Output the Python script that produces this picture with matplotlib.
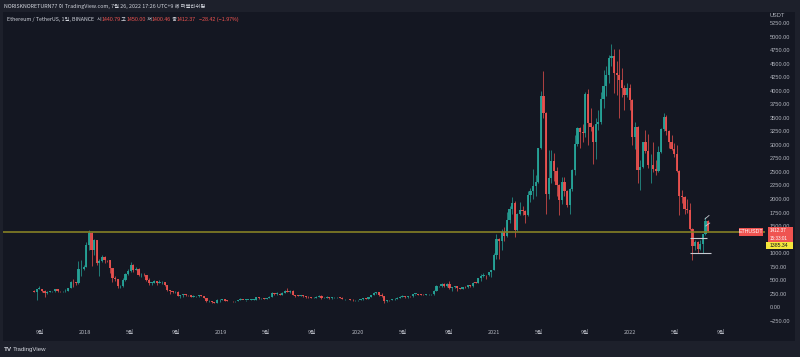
import matplotlib
matplotlib.use("Agg")
import matplotlib.pyplot as plt
import numpy as np
import pandas as pd
from matplotlib.patches import Rectangle

# ---------------- data (weekly OHLC, ETH/USDT) ----------------
first_week = "2017-08-14"
first_open = 301

highs_2017 = [312, 345, 395, 345, 315, 300, 310, 305, 345, 345, 310, 310, 330, 360, 480, 520, 470, 860, 870, 780]
lows_2017 = [280, 135, 335, 280, 197, 250, 283, 290, 290, 290, 280, 285, 280, 300, 350, 380, 410, 430, 570, 680]
closes_2017 = [290, 345, 345, 295, 255, 285, 295, 298, 335, 300, 295, 300, 310, 355, 470, 460, 440, 700, 700, 750]

highs_2018 = [1200, 1424, 1390, 1260, 1245, 900, 960, 950, 880, 870, 730, 580, 530, 410, 535, 630, 710, 830, 800, 740,
              720, 630, 630, 600, 545, 470, 500, 490, 500, 490, 470, 420, 325, 300, 300, 300, 225, 250, 250, 235,
              235, 225, 210, 225, 225, 215, 175, 130, 120, 95, 145, 160]
lows_2018 = [740, 1050, 770, 960, 780, 575, 840, 810, 840, 640, 460, 490, 365, 360, 380, 490, 590, 660, 660, 680,
             580, 560, 585, 480, 420, 410, 440, 420, 440, 430, 400, 310, 250, 260, 270, 200, 168, 190, 215, 210,
             185, 195, 195, 195, 205, 165, 100, 105, 85, 82, 83, 105]
closes_2018 = [1150, 1370, 1050, 1240, 810, 860, 920, 870, 865, 720, 540, 520, 385, 385, 500, 615, 670, 790, 685, 715,
               590, 600, 590, 500, 455, 455, 485, 450, 460, 465, 410, 320, 295, 275, 290, 210, 220, 245, 230, 225,
               197, 205, 205, 220, 210, 170, 110, 115, 90, 85, 130, 138]

highs_2019 = [160, 160, 130, 122, 116, 125, 135, 165, 140, 140, 140, 145, 145, 185, 185, 175, 175, 170, 200, 280,
              270, 280, 255, 275, 320, 364, 320, 320, 230, 225, 235, 235, 215, 200, 195, 185, 200, 225, 218, 185,
              200, 190, 195, 195, 195, 190, 183, 160, 155, 152, 145, 135]
lows_2019 = [130, 120, 115, 110, 100, 102, 118, 130, 130, 125, 130, 130, 133, 140, 155, 160, 150, 150, 165, 190,
             230, 235, 225, 230, 265, 280, 270, 225, 195, 200, 208, 195, 180, 180, 165, 168, 175, 190, 155, 165,
             175, 160, 160, 180, 180, 175, 145, 140, 145, 140, 116, 125]
closes_2019 = [155, 125, 120, 115, 108, 123, 135, 138, 135, 135, 138, 138, 141, 182, 165, 170, 155, 165, 195, 260,
               250, 250, 230, 270, 310, 290, 310, 230, 215, 210, 230, 210, 195, 185, 170, 180, 195, 215, 170, 180,
               185, 170, 185, 185, 185, 180, 150, 150, 150, 142, 128, 130]

highs_2020 = [140, 150, 180, 172, 190, 225, 288, 285, 280, 255, 205, 140, 140, 150, 175, 185, 200, 225, 215, 210,
              215, 245, 250, 250, 240, 245, 245, 245, 245, 315, 415, 400, 445, 440, 440, 490, 380, 395, 390, 365,
              380, 390, 420, 415, 460, 470, 550, 620, 630, 600, 660, 690]
lows_2020 = [125, 135, 142, 155, 160, 185, 220, 245, 215, 195, 86, 105, 125, 128, 143, 150, 170, 190, 180, 180,
             195, 195, 230, 225, 225, 220, 220, 235, 235, 235, 305, 370, 375, 380, 380, 330, 310, 355, 310, 335,
             340, 360, 365, 370, 375, 440, 445, 480, 560, 530, 580, 560]
closes_2020 = [138, 146, 167, 162, 190, 223, 260, 275, 225, 200, 125, 132, 130, 145, 155, 180, 195, 210, 185, 205,
               200, 245, 245, 235, 230, 225, 240, 240, 240, 310, 390, 395, 430, 390, 430, 350, 370, 385, 355, 345,
               375, 370, 405, 385, 455, 450, 550, 575, 595, 590, 645, 685]

highs_2021 = [1000, 1350, 1280, 1440, 1475, 1760, 1870, 2040, 1960, 1750, 1950, 1880, 1800, 2150, 2200, 2550, 2450,
              2950, 3990, 4370, 3600, 2900, 2900, 2850, 2600, 2270, 2400, 2400, 2170, 2200, 2550, 3180, 3330, 3330,
              3380, 3970, 4030, 3680, 3360, 3490, 3640, 3970, 4380, 4460, 4660, 4870, 4770, 4550, 4780, 4420, 4100,
              4140, 4130]
lows_2021 = [680, 900, 900, 1050, 1220, 1300, 1560, 1730, 1290, 1410, 1700, 1710, 1550, 1690, 1950, 2000, 2050,
             2300, 2930, 3500, 1730, 2000, 2300, 2330, 2050, 1700, 1900, 2050, 1850, 1720, 2150, 2450, 2980, 2950,
             3060, 3150, 3000, 3260, 2650, 2740, 3280, 3380, 3690, 3900, 4150, 4450, 3960, 3920, 3500, 3880, 3640,
             3880, 3650]
closes_2021 = [975, 1260, 1230, 1390, 1315, 1610, 1810, 1935, 1420, 1720, 1790, 1780, 1700, 2080, 2140, 2240, 2310,
               2945, 3900, 3580, 2100, 2380, 2710, 2510, 2250, 1980, 2320, 2140, 1890, 2190, 2530, 3010, 3310, 3240,
               3220, 3940, 3410, 3330, 3060, 3390, 3420, 3850, 4080, 4290, 4610, 4650, 4320, 4300, 4190, 4060, 3920,
               4060, 3830]

highs_2022 = [3850, 3420, 3350, 2730, 3060, 3280, 3200, 2840, 3050, 2720, 2980, 3320, 3580, 3550, 3270, 3190, 3030,
              3000, 2530, 2160, 2050, 2000, 1920, 1460, 1250, 1230, 1250, 1360, 1660, 1610]
lows_2022 = [3000, 2930, 2300, 2160, 2580, 2850, 2580, 2300, 2500, 2450, 2500, 2850, 3250, 3180, 2950, 2900, 2780,
             2500, 1700, 1920, 1720, 1750, 1420, 880, 1050, 1000, 1060, 1000, 1340, 1400]
closes_2022 = [3150, 3330, 2530, 2600, 3050, 2880, 2620, 2620, 2550, 2520, 2860, 3300, 3520, 3260, 3060, 2920, 2830,
               2520, 2060, 2040, 1810, 1800, 1450, 1130, 1200, 1070, 1170, 1350, 1600, 1412]

hline_price = 1385.34
last_price = 1412.37
range_top = 1285
range_bottom = 1000

price_ticks = list(range(-250, 5251, 250))
hidden_price_ticks = [1250]  # covered by the last-price label in the reference
time_tick_dates = ["2017-09-01", "2018-01-01", "2018-05-01", "2018-09-01", "2019-01-01", "2019-05-01",
                   "2019-09-01", "2020-01-01", "2020-05-01", "2020-09-01", "2021-01-01", "2021-05-01",
                   "2021-09-01", "2022-01-01", "2022-05-01", "2022-09-01"]
time_tick_labels = ["9월", "2018", "5월", "9월", "2019", "5월", "9월", "2020", "5월", "9월",
                    "2021", "5월", "9월", "2022", "5월", "9월"]

# ---------------- assemble ----------------
highs = np.array(highs_2017 + highs_2018 + highs_2019 + highs_2020 + highs_2021 + highs_2022, float)
lows = np.array(lows_2017 + lows_2018 + lows_2019 + lows_2020 + lows_2021 + lows_2022, float)
closes = np.array(closes_2017 + closes_2018 + closes_2019 + closes_2020 + closes_2021 + closes_2022, float)
opens = np.concatenate([[first_open], closes[:-1]])

ref = pd.Timestamp("2018-01-01")
weeks = pd.date_range(first_week, periods=len(closes), freq="7D")
xs = np.array([(d - ref).days for d in weeks], float) + 3.5

def day(s):
    return (pd.Timestamp(s) - ref).days

# ---------------- style ----------------
W, H = 800, 357
OUTER = "#1d202b"
PANEL = "#141722"
UP = "#26a69a"
DOWN = "#ef5350"
TXT = "#b2b5be"
LAT = ["Liberation Sans", "DejaVu Sans"]
KR = ["Noto Sans CJK KR", "DejaVu Sans"]

def fx(px):
    return px / W

def fy(py):
    return 1 - py / H

fig = plt.figure(figsize=(8, 3.57), dpi=100)
fig.patch.set_facecolor(OUTER)
fig.add_artist(Rectangle((fx(3), fy(341)), fx(795) - fx(3), fy(12) - fy(341),
                         transform=fig.transFigure, facecolor=PANEL, edgecolor="none", zorder=-1))

ax = fig.add_axes([fx(3), fy(327), fx(765) - fx(3), fy(12) - fy(327)])
ax.set_facecolor("none")
for s in ax.spines.values():
    s.set_visible(False)

ax.set_xlim(-219.7, 1822)
ax.set_ylim(-364, 5455)

cols = np.where(closes >= opens, UP, DOWN)
ax.vlines(xs, lows, highs, colors=cols, linewidth=0.55, alpha=0.9, zorder=2)
ax.bar(xs, np.maximum(np.abs(closes - opens), 10), bottom=np.minimum(opens, closes), width=6.0,
       color=cols, linewidth=0, alpha=0.9, zorder=3)

ax.axhline(hline_price, color="#858025", lw=1.2, zorder=4)
ax.hlines(range_top, day("2022-06-10"), day("2022-07-26"), color="#c8cad2", lw=0.8, zorder=5)
ax.hlines(range_bottom, day("2022-06-10"), day("2022-08-05"), color="#c8cad2", lw=0.8, zorder=5)
ax.plot([day("2022-07-20"), day("2022-07-31")], [1631, 1696], color="#c8cad2", lw=0.6, zorder=5)
ax.plot([day("2022-07-22"), day("2022-08-02")], [1502, 1557], color="#c8cad2", lw=0.6, zorder=5)

ax.yaxis.tick_right()
ax.set_yticks(price_ticks)
ax.set_yticklabels(["" if v in hidden_price_ticks else f"{v:.2f}".replace("-", "\u2212") for v in price_ticks],
                   fontsize=4.1, color=TXT, family=LAT)
ax.tick_params(axis="y", length=0, pad=3.6)
ax.set_xticks([day(d) for d in time_tick_dates])
ax.set_xticklabels(time_tick_labels, fontsize=4.0, color=TXT, family=KR)
ax.tick_params(axis="x", length=0, pad=2.4)

# ---------------- overlays ----------------
renderer = fig.canvas.get_renderer()

def seq_text(x0, y, parts, target_w, base=5.0):
    # measure at base size, then scale to fit target width
    tmp = [fig.text(0, 0, t, fontsize=base, family=fam) for t, c, fam in parts]
    total = sum(t.get_window_extent(renderer).width for t in tmp)
    for t in tmp:
        t.remove()
    size = base * target_w / total
    x = x0
    for t, c, fam in parts:
        tt = fig.text(fx(x), fy(y), t, fontsize=size, color=c, family=fam, va="center", ha="left")
        x += tt.get_window_extent(renderer).width

seq_text(4, 6.5, [("NORISKNORETURN77 이 TradingView.com, 7월 26, 2022 17:26 UTC+9 에 퍼블리쉬됨", "#d1d4dc", KR)], 201)
seq_text(7, 19.5, [("Ethereum / TetherUS, 1일, BINANCE  ", "#d1d4dc", KR),
                   ("시", "#d1d4dc", KR), ("1440.79", DOWN, LAT),
                   (" 고", "#d1d4dc", KR), ("1450.00", DOWN, LAT),
                   (" 저", "#d1d4dc", KR), ("1400.46", DOWN, LAT),
                   (" 종", "#d1d4dc", KR), ("1412.37", DOWN, LAT),
                   ("  \u221228.42 (\u22121.97%)", DOWN, LAT)], 233)

def box(x0, y0, x1, y1, color, z=5):
    fig.add_artist(Rectangle((fx(x0), fy(y1)), fx(x1) - fx(x0), fy(y0) - fy(y1),
                             transform=fig.transFigure, facecolor=color, edgecolor="none", zorder=z))

# USDT header covering the top tick
box(766, 12, 795, 20.5, PANEL)
fig.text(fx(770), fy(15.5), "USDT", fontsize=4.1, color=TXT, family=LAT, va="center", ha="left", zorder=6)

# last price labels
box(739, 228, 763, 235.5, DOWN)
fig.text(fx(751), fy(231.8), "ETHUSDT", fontsize=3.8, color="white", family=LAT, va="center", ha="center", zorder=6)
box(768, 227.3, 793, 241.6, DOWN)
fig.text(fx(770), fy(230.9), f"{last_price:.2f}", fontsize=3.3, color="white", family=LAT, va="center", zorder=6)
fig.text(fx(770), fy(238.2), "15:33:01", fontsize=3.3, color="white", family=LAT, va="center", zorder=6)
box(766, 241.8, 793, 249, "#f5e63c")
fig.text(fx(770), fy(245.5), f"{hline_price:.2f}", fontsize=3.7, color="#131722", family=LAT, va="center", zorder=6)

# footer logo
fig.text(fx(4), fy(349.5), "TV", fontsize=4.6, color="#d1d4dc", family=LAT, weight="bold", va="center")
fig.text(fx(13), fy(349.5), "TradingView", fontsize=4.4, color="#d1d4dc", family=LAT, va="center")

fig.savefig("out.png", dpi=100, facecolor=OUTER)
